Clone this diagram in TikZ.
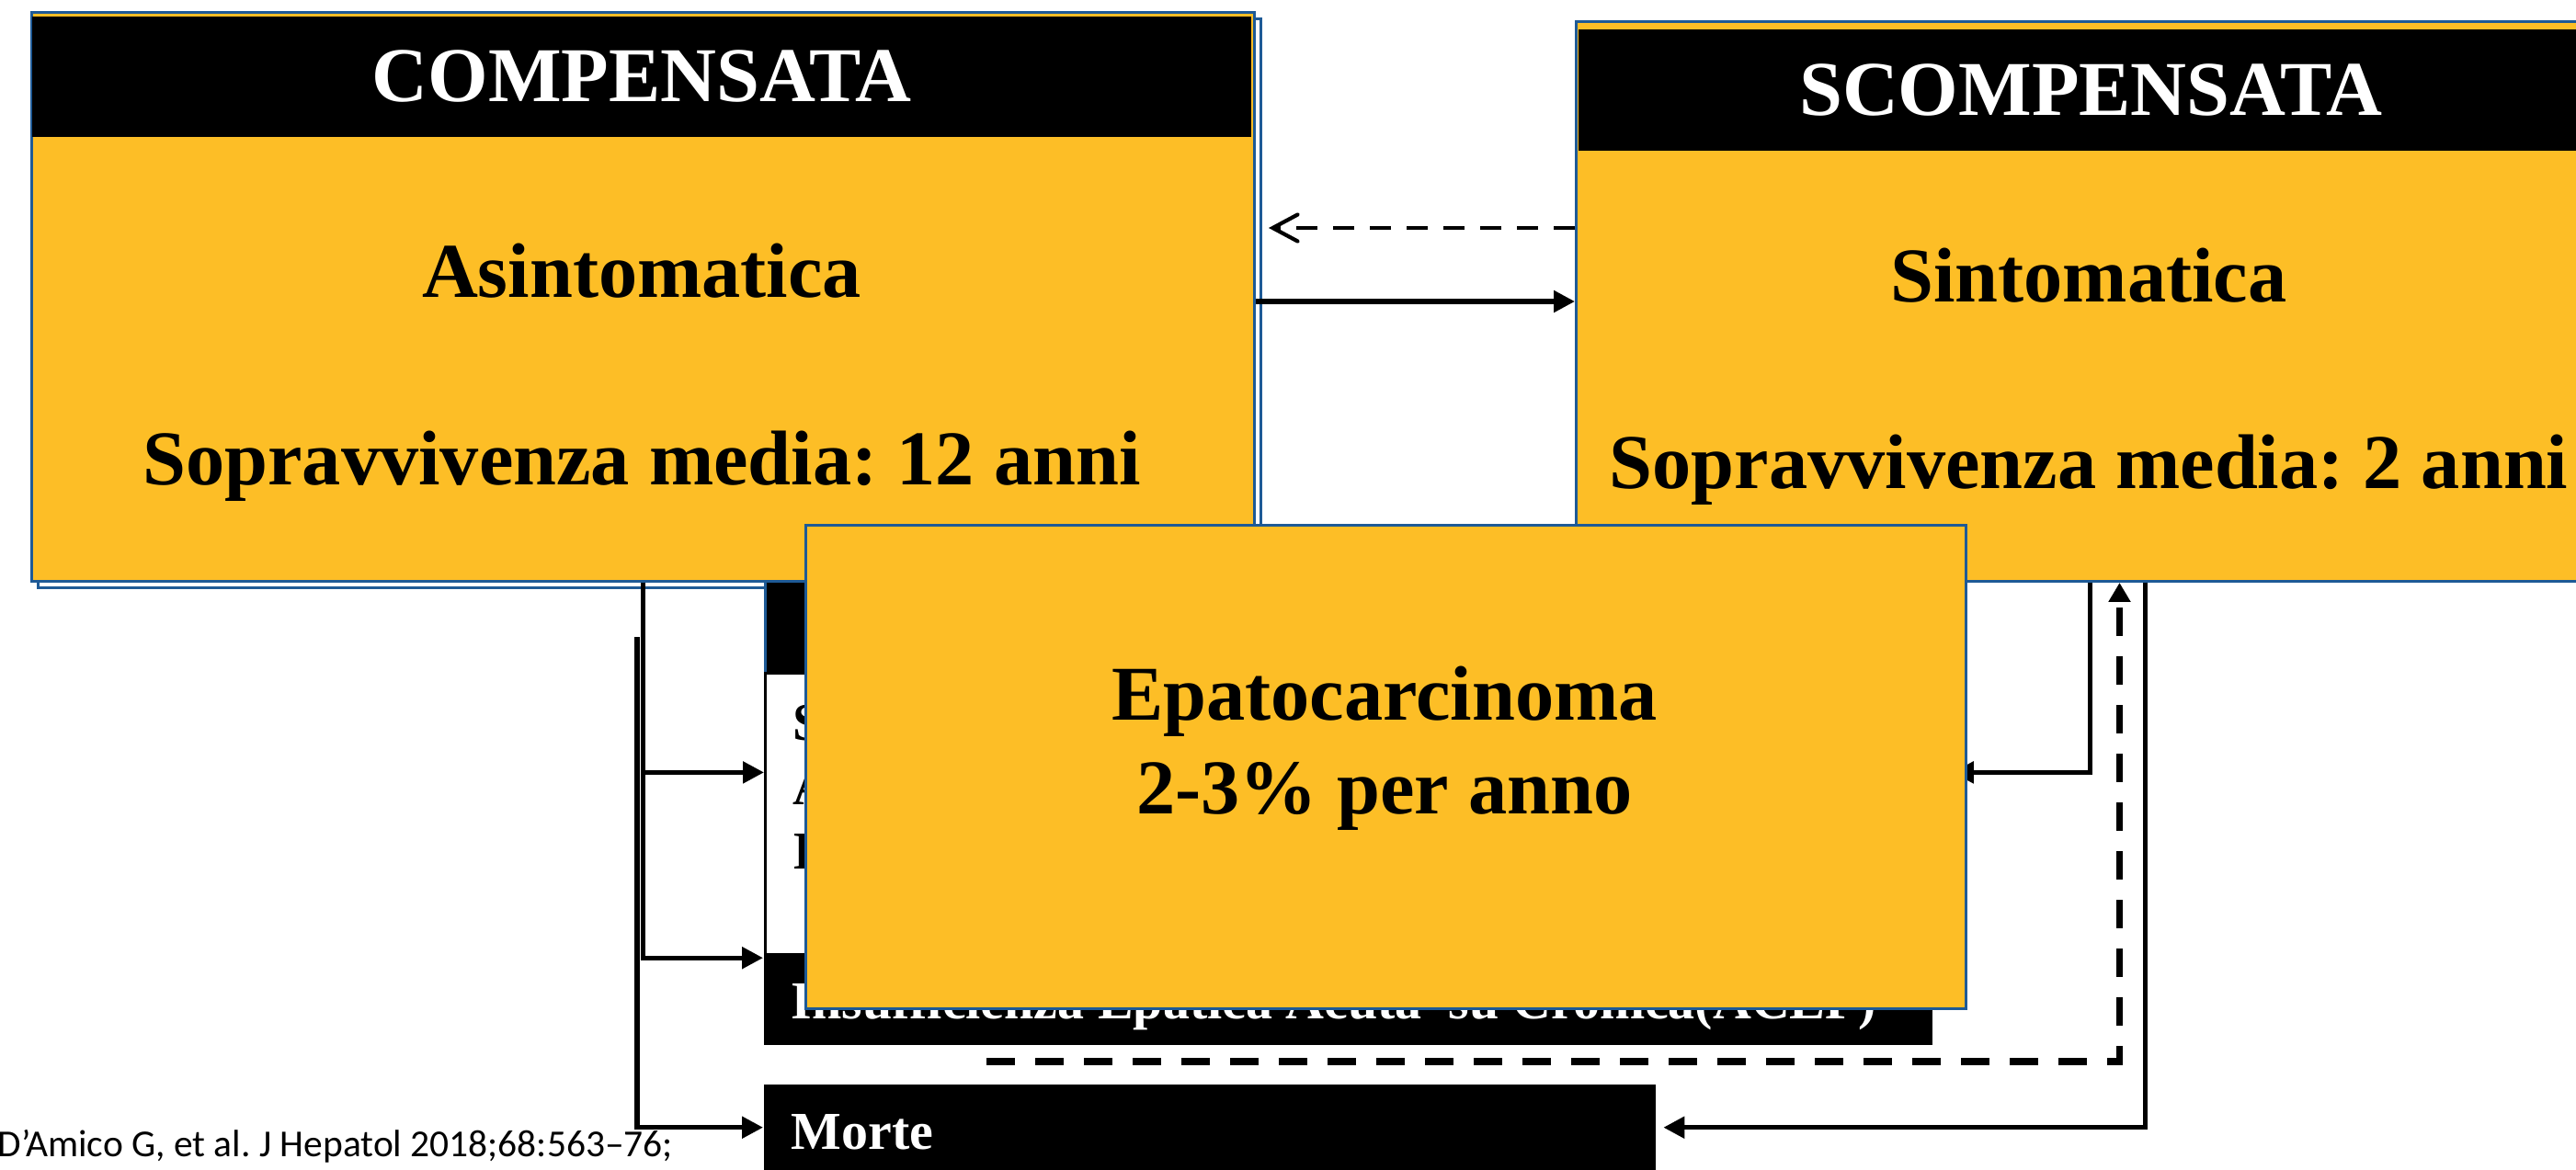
\documentclass[tikz,border=0pt]{standalone}
\usepackage{fontspec}
\setmainfont{Liberation Serif}
\newfontfamily\notefont{Carlito}
\usepackage{tikz}
\usetikzlibrary{arrows.meta,shadows}
\definecolor{boxgold}{RGB}{253,190,38}
\definecolor{boxblue}{RGB}{30,90,150}
\newcommand{\bigbf}{\bfseries\fontsize{24}{28}\selectfont}
\newcommand{\midbf}{\bfseries\fontsize{16.5}{20}\selectfont}
\frenchspacing

\begin{document}
\begin{tikzpicture}
      [stage node/.style={rectangle,draw=boxblue,line width=0.85pt,fill=boxgold,anchor=north west,inner sep=0pt},
       head node/.style={rectangle,fill=black,text=white,anchor=north west,inner sep=0pt,font=\bigbf},
       dark node/.style={rectangle,fill=black,anchor=north west,inner sep=0pt},
       big text/.style={anchor=base,inner sep=0pt,font=\bigbf},
       mid text/.style={anchor=base west,inner sep=0pt,font=\midbf},
       conn/.style={line width=1.5pt,-{Triangle[length=0.23cm,width=0.23cm]}},
       dashconn/.style={line width=2pt,dash pattern=on 0.31cm off 0.22cm,-{Triangle[length=0.21cm,width=0.23cm]}},
       backconn/.style={line width=1.2pt,dash pattern=on 0.23cm off 0.17cm,-{Straight Barb[length=0.27cm,width=0.29cm,line cap=round]}}]
        \clip (0,0) rectangle (28.02,-12.73);

        \node[stage node,minimum width=13.30cm,minimum height=6.19cm,
              general shadow={shadow xshift=0.07cm,shadow yshift=-0.07cm,fill=white,draw=boxblue,line width=0.85pt}]
              (comp) at (0.33,-0.12) {};
        \node[head node,minimum width=13.26cm,minimum height=1.31cm] (compHead) at (0.345,-0.17) {COMPENSATA};
        \node[big text] (compSym) at (6.98,-3.23) {Asintomatica};
        \node[big text] (compSurv) at (6.98,-5.27) {Sopravvivenza media: 12 anni};

        \node[stage node,minimum width=11.18cm,minimum height=6.09cm] (scomp) at (17.13,-0.22) {};
        \node[head node,minimum width=11.15cm,minimum height=1.32cm] (scompHead) at (17.16,-0.31) {SCOMPENSATA};
        \node[big text] (scompSym) at (22.72,-3.28) {Sintomatica};
        \node[big text] (scompSurv) at (22.72,-5.31) {Sopravvivenza media: 2 anni};

        \node[dark node,draw=boxblue,line width=0.85pt,minimum width=12.90cm,minimum height=1.00cm] (complHead) at (8.31,-6.31) {};
        \node[rectangle,draw=black,line width=0.8pt,fill=white,anchor=north west,inner sep=0pt,
              minimum width=12.90cm,minimum height=3.06cm] (compl) at (8.31,-7.31) {};
        \node[mid text] (complA) at (8.62,-8.05) {S};
        \node[mid text] (complB) at (8.62,-8.75) {A};
        \node[mid text] (complC) at (8.62,-9.45) {I};

        \node[dark node,minimum width=12.71cm,minimum height=0.99cm] (insuff) at (8.30,-10.37) {};
        \node[mid text,text=white] (insuffText) at (8.60,-11.08) {Insufficienza Epatica Acuta\ \ su Cronica(ACLF)};

        \node[dark node,minimum width=9.70cm,minimum height=0.94cm] (morte) at (8.30,-11.79) {};
        \node[mid text,text=white] (morteText) at (8.60,-12.50) {Morte};

        \node[anchor=base west,inner sep=0pt,font=\notefont\fontsize{11.8}{14}\selectfont] (note) at (-0.03,-12.58)
              {D’Amico G, et al. J Hepatol 2018;68:563–76;};

        \coordinate (backTip) at (13.80,-2.48);
        \coordinate (deathLine) at (6.93,-6.93);
        \coordinate (relapse) at (10.73,-11.55);

        \draw[backconn] (scomp.west |- backTip) -- (backTip);
        \draw[conn] (comp.east |- scomp.west) -- (scomp.west);
        \draw[conn] (comp.south) |- ([yshift=0.45cm]compl.west);
        \draw[conn] (comp.south) |- ([yshift=0.45cm]insuff.west);
        \draw[conn] (deathLine) |- (morte.west);
        \draw[conn] (scomp.south) |- ([yshift=0.45cm]compl.east);
        \draw[conn,shorten >=0.08cm] ([xshift=0.60cm]scomp.south) |- (morte.east);
        \draw[dashconn] (relapse) -| ([xshift=0.32cm]scomp.south);

        \node[stage node,minimum width=12.62cm,minimum height=5.26cm] (epato) at (8.75,-5.70) {};
        \node[big text] (epatoName) at (15.06,-7.83) {Epatocarcinoma};
        \node[big text] (epatoRate) at (15.06,-8.85) {2-3\% per anno};

      \end{tikzpicture}
\end{document}
